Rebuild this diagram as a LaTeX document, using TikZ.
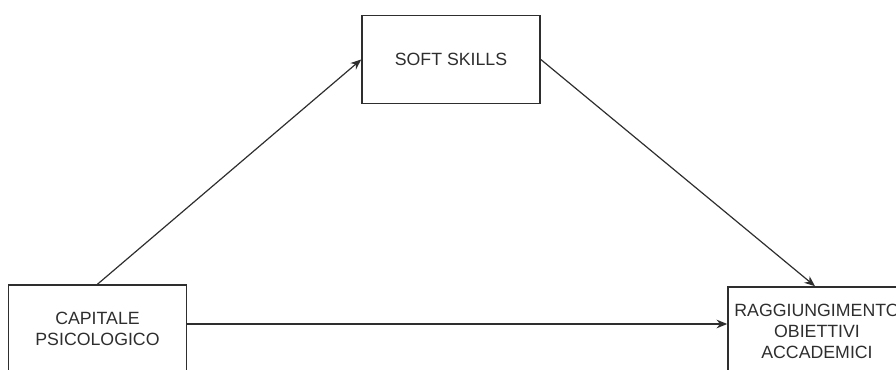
\documentclass[tikz,border=0pt]{standalone}
\usepackage{fontspec}
\setmainfont{Liberation Sans}
\usetikzlibrary{arrows.meta}

\definecolor{ink}{HTML}{2E2E2E}

\tikzset{
	box/.style = {draw = ink, line width = 1.2pt, text = ink, align = center,
		minimum width = 133.5pt, minimum height = 66pt, inner sep = 0pt,
		font = \fontsize{13.3}{15.8}\selectfont},
	arr/.style = {draw = ink, line width = 0.9pt, -{Stealth[length = 8pt, width = 6.5pt]}}
}

\begin{document}
\begin{tikzpicture}[x = 0.75pt, y = -0.75pt]
	\useasboundingbox (0,0) rectangle (896,370);
	\clip (0,0) rectangle (896,370);
	
	\node[box] (soft) at (451,59.5) {SOFT SKILLS};
	\node[box] (cap) at (97.5,329) {CAPITALE\\PSICOLOGICO};
	\node[box] (ragg) at (817,331) {RAGGIUNGIMENTO\\OBIETTIVI\\ACCADEMICI};
	
	\draw[arr] (cap.north) -- (soft.west);
	\draw[arr] (soft.east) -- ([xshift = -1.5pt]ragg.north);
	\draw[arr] ([yshift = 3.75pt]cap.east) -- ([yshift = 3.75pt]cap.east -| ragg.west);
	
\end{tikzpicture}
\end{document}
